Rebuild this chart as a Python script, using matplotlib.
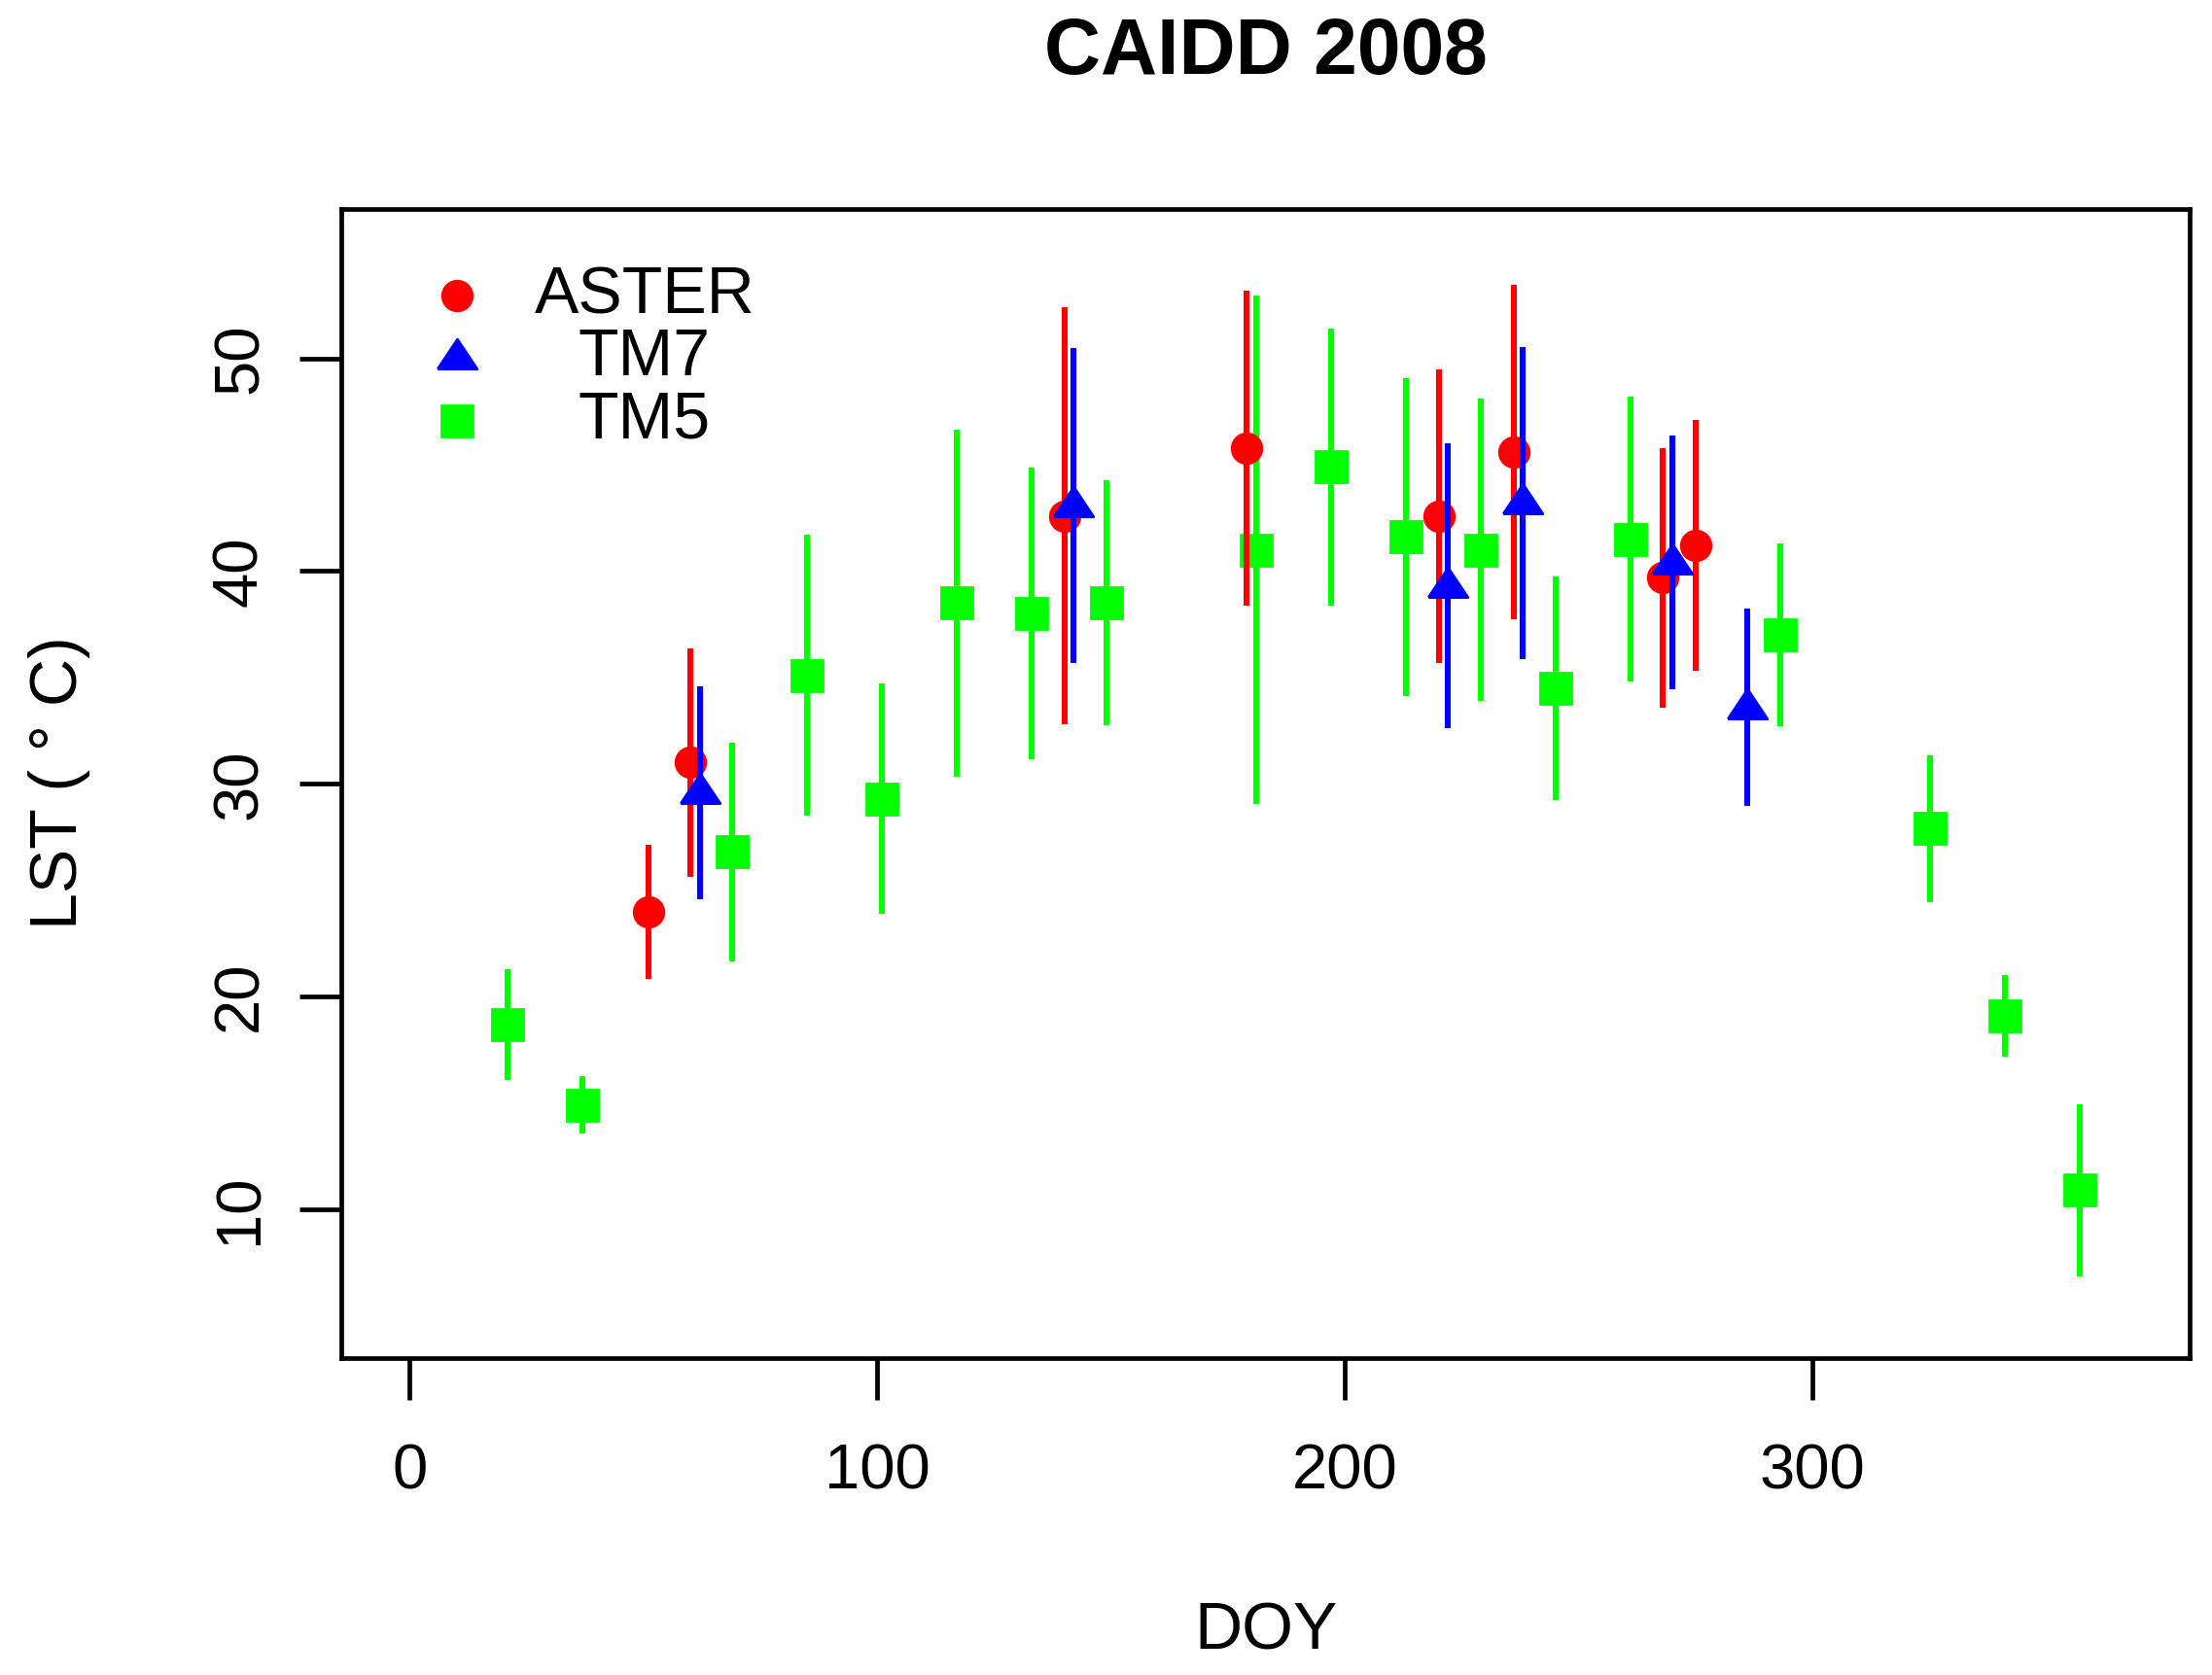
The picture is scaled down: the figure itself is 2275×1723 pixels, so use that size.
import numpy as np
from matplotlib import pyplot as plt

# valeurs (DOY, LST moyenne, demi-barre d'erreur)
aster_doy = [51, 60, 140, 179, 220, 236, 268, 275]
aster_lst = [24.0, 31.0, 42.6, 45.8, 42.6, 45.6, 39.7, 41.2]
aster_err = [3.15, 5.35, 9.8, 7.4, 6.9, 7.85, 6.1, 5.9]

tm7_doy = [62, 142, 222, 238, 270, 286]
tm7_lst = [29.6, 43.1, 39.3, 43.2, 40.4, 33.6]
tm7_err = [5.0, 7.4, 6.7, 7.35, 5.95, 4.65]

tm5_doy = [21, 37, 69, 85, 101, 117, 133, 149, 181, 197, 213, 229, 245, 261, 293, 325, 341, 357]
tm5_lst = [18.7, 14.9, 26.8, 35.1, 29.3, 38.5, 38.0, 38.5, 41.0, 44.9, 41.6, 41.0, 34.5, 41.5,
           37.0, 27.9, 19.1, 10.9]
tm5_err = [2.6, 1.35, 5.15, 6.6, 5.4, 8.15, 6.85, 5.75, 11.95, 6.5, 7.45, 7.1, 5.25, 6.7,
           4.3, 3.45, 1.9, 4.05]

xticks = [0, 100, 200, 300]
yticks = [10, 20, 30, 40, 50]

plt.rcParams['font.family'] = ['Liberation Sans', 'DejaVu Sans']

# triangle plein façon pch=17 (plus large que haut)
tri = [(-1, -0.55), (1, -0.55), (0, 0.95), (-1, -0.55)]

fig = plt.figure(figsize=(2275 / 200, 1723 / 200), dpi=200)
ax = fig.add_axes([0.1543, 0.189, 0.8357, 0.686])

lw = 2.2
ax.errorbar(tm5_doy, tm5_lst, yerr=tm5_err, fmt='s', color='#00ff00', ms=11.2,
            elinewidth=lw, capsize=0, zorder=3)
ax.errorbar(aster_doy, aster_lst, yerr=aster_err, fmt='o', color='#ff0000', ms=11,
            elinewidth=lw, capsize=0, zorder=4)
ax.errorbar(tm7_doy, tm7_lst, yerr=tm7_err, fmt='none', ecolor='#0000ff',
            elinewidth=lw, capsize=0, zorder=5)
ax.plot(tm7_doy, tm7_lst, ls='none', marker=tri, color='#0000ff', ms=14.6, zorder=5)

ax.set_xlim(-14.64, 380.64)
ax.set_ylim(3, 57)
ax.set_xticks(xticks)
ax.set_yticks(yticks)
for s in ax.spines.values():
    s.set_linewidth(1.7)
ax.tick_params(axis='both', direction='out', length=15.5, width=1.7, labelsize=23.5)
ax.tick_params(axis='x', pad=16)
ax.tick_params(axis='y', pad=11)
for lab in ax.get_yticklabels():
    lab.set_rotation(90)
    lab.set_va('center')

# légende dessinée à la main (texte centré comme dans R)
leg_y = [0.925, 0.871, 0.816]
leg_txt = ['ASTER', 'TM7', 'TM5']
leg_mk = [('o', '#ff0000', 11), (tri, '#0000ff', 14.6), ('s', '#00ff00', 11.2)]
for yy, t, (m, c, ms) in zip(leg_y, leg_txt, leg_mk):
    ax.plot([0.0625], [yy], marker=m, color=c, ms=ms, ls='none', transform=ax.transAxes)
    ax.text(0.164, yy, t, ha='center', va='center', fontsize=24.5, transform=ax.transAxes)

fig.text(0.5724, 0.968, 'CAIDD 2008', ha='center', va='center', fontsize=29, fontweight='bold')
fig.text(0.5724, 0.0256, 'DOY', ha='center', va='center', fontsize=24.5)
fig.text(0.0268, 0.533, 'LST ( ° C)', ha='center', va='center', fontsize=24.5, rotation=90)

fig.savefig('out.png', dpi=200)
